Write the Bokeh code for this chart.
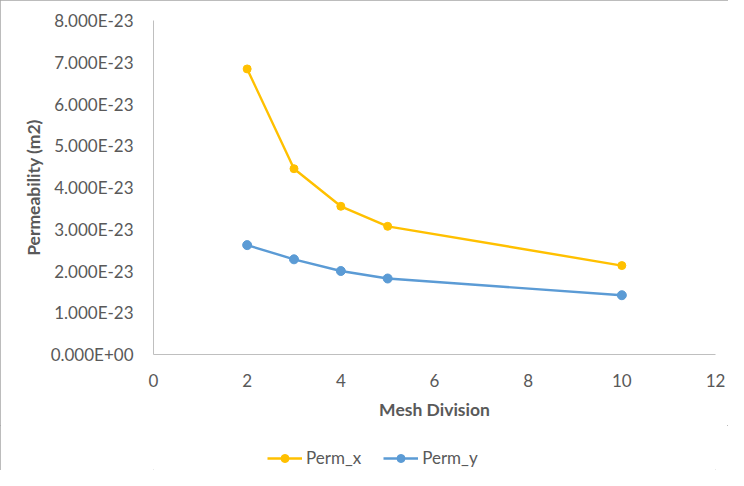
from bokeh.plotting import figure
from bokeh.layouts import column
from bokeh.models import (FixedTicker, CustomJSTickFormatter, Range1d, Legend, LegendItem)
from bokeh.embed import file_html
from bokeh.resources import INLINE

mesh_division = [2, 3, 4, 5, 10]
perm_x = [6.84e-23, 4.45e-23, 3.55e-23, 3.07e-23, 2.13e-23]
perm_y = [2.62e-23, 2.28e-23, 2.00e-23, 1.82e-23, 1.42e-23]
x_ticks = [0, 2, 4, 6, 8, 10, 12]
y_ticks = [0, 1e-23, 2e-23, 3e-23, 4e-23, 5e-23, 6e-23, 7e-23, 8e-23]
series_names = ["Perm_x", "Perm_y"]
series_values = [perm_x, perm_y]
series_colors = ["#FFC000", "#5B9BD5"]
marker_sizes = [8, 9]

FONT = "Lato"
TXT = "#595959"

p = figure(width=728, height=425, output_backend="svg", toolbar_location=None,
           x_range=Range1d(0, 12), y_range=Range1d(0, 8e-23),
           min_border_left=153, min_border_right=13, min_border_top=20,
           min_border_bottom=71)
p.outline_line_color = None
p.grid.visible = False
p.background_fill_color = "white"
p.border_fill_color = "white"

for vals, col, ms in zip(series_values, series_colors, marker_sizes):
    p.line(mesh_division, vals, line_color=col, line_width=2.4)
    p.scatter(mesh_division, vals, size=ms, fill_color=col, line_color=col)

for ax in (p.xaxis[0], p.yaxis[0]):
    ax.axis_line_color = "#bfbfbf"
    ax.axis_line_width = 1
    ax.major_tick_line_color = None
    ax.minor_tick_line_color = None
    ax.major_tick_out = 0
    ax.major_tick_in = 0
    ax.major_label_text_font = FONT
    ax.major_label_text_font_size = "17px"
    ax.major_label_text_color = TXT
    ax.axis_label_text_font = FONT
    ax.axis_label_text_font_size = "17.5px"
    ax.axis_label_text_font_style = "bold"
    ax.axis_label_text_color = TXT

p.xaxis[0].ticker = FixedTicker(ticks=x_ticks)
p.yaxis[0].ticker = FixedTicker(ticks=y_ticks)
p.yaxis[0].formatter = CustomJSTickFormatter(code="""
    const s = tick.toExponential(3).toUpperCase();
    const m = s.match(/^(.*)E([+-])(\\d+)$/);
    let e = m[3]; if (e.length < 2) { e = '0' + e; }
    return m[1] + 'E' + m[2] + e;
""")
p.xaxis[0].axis_label = "Mesh Division"
p.yaxis[0].axis_label = "Permeability (m2)"
p.yaxis[0].major_label_standoff = 20
p.xaxis[0].major_label_standoff = 19
p.xaxis[0].axis_label_standoff = 9
p.yaxis[0].axis_label_standoff = 4

# legend strip below the chart (its renderers lie outside its own view)
pl = figure(width=728, height=45, output_backend="svg", toolbar_location=None,
            x_range=Range1d(-100, -99), y_range=Range1d(0, 1),
            x_axis_type=None, y_axis_type=None,
            min_border_left=0, min_border_right=0, min_border_top=0, min_border_bottom=0)
pl.outline_line_color = None
pl.grid.visible = False
pl.border_fill_color = "white"
items = []
for name, vals, col, ms in zip(series_names, series_values, series_colors, marker_sizes):
    r1 = pl.line(mesh_division, vals, line_color=col, line_width=2.4)
    r2 = pl.scatter(mesh_division, vals, size=ms, fill_color=col, line_color=col)
    items.append(LegendItem(label=name, renderers=[r1, r2]))
legend = Legend(items=items, orientation="horizontal", location=(114, 2),
                label_text_font=FONT, label_text_font_size="17px",
                label_text_color=TXT, glyph_width=35, label_standoff=4,
                spacing=22, border_line_color=None, background_fill_alpha=0,
                margin=0, padding=0)
pl.add_layout(legend, "center")

layout = column(p, pl, spacing=0)
layout.styles = {"outline": "1px solid #a6a6a6", "outline-offset": "-1px"}

open("out.html", "w").write(file_html(layout, INLINE))
